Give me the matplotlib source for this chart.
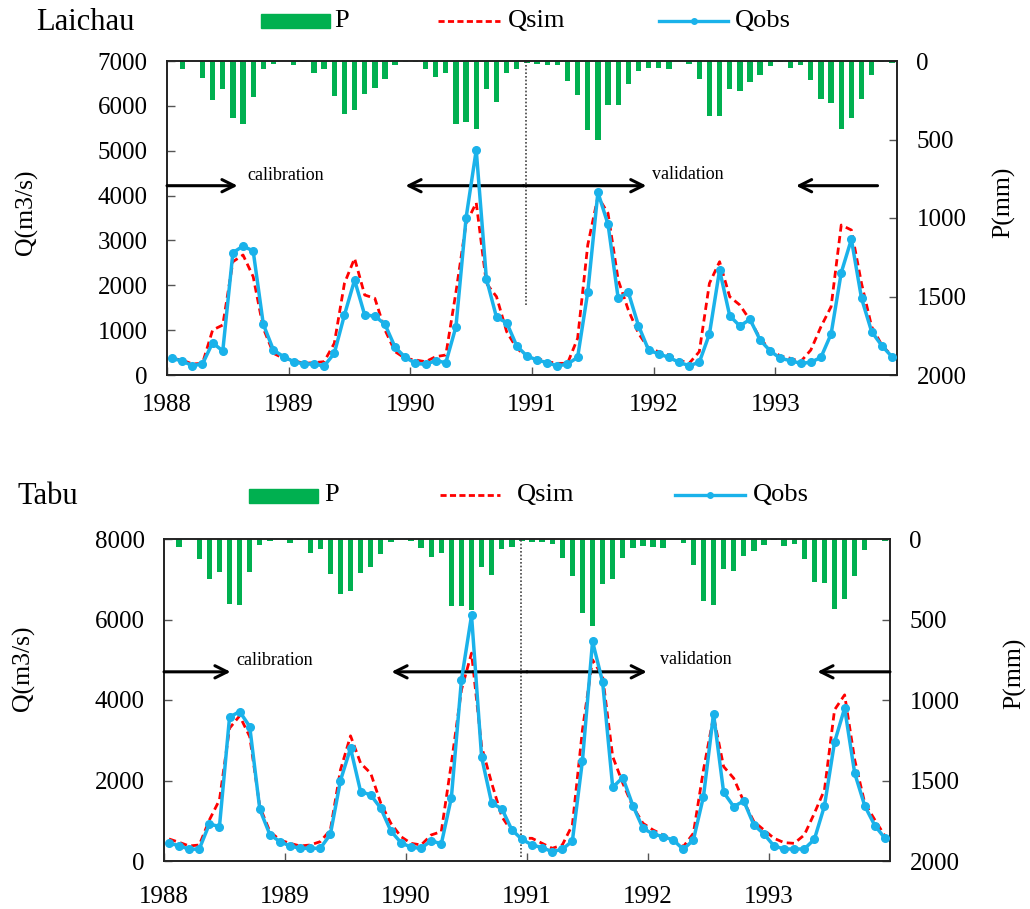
import matplotlib
matplotlib.use("Agg")
import matplotlib.pyplot as plt
from matplotlib.lines import Line2D
from matplotlib.patches import Rectangle
import numpy as np

plt.rcParams['font.family'] = ['Liberation Serif', 'DejaVu Serif']

# ---------------- data ----------------
start_year = 1988
n_months = 72
years = [1988, 1989, 1990, 1991, 1992, 1993]

laichau_P = [5, 51, 3, 110, 248, 178, 364, 400, 231, 51, 21, 3,
             25, 6, 74, 51, 224, 336, 315, 210, 174, 116, 23, 6,
             6, 51, 99, 78, 400, 389, 434, 176, 260, 74, 53, 10,
             19, 25, 25, 127, 216, 442, 506, 279, 279, 146, 63, 47,
             47, 51, 3, 21, 116, 349, 349, 180, 188, 135, 91, 30,
             4, 42, 25, 121, 243, 265, 430, 364, 239, 89, 4, 11]
laichau_Qobs = [370, 312, 208, 245, 720, 535, 2727, 2875, 2764, 1129, 557, 408,
                297, 245, 245, 200, 483, 1337, 2117, 1337, 1315, 1129, 617, 394,
                260, 238, 320, 275, 1077, 3507, 5015, 2147, 1285, 1166, 646, 423,
                334, 275, 200, 245, 394, 1850, 4072, 3358, 1709, 1843, 1100, 557,
                468, 394, 282, 208, 282, 914, 2340, 1322, 1092, 1241, 780, 535,
                371, 320, 260, 282, 394, 914, 2281, 3024, 1709, 966, 654, 408]
laichau_Qsim = [370, 334, 245, 260, 1003, 1114, 2526, 2675, 2192, 1040, 483, 371,
                320, 260, 275, 297, 706, 2043, 2600, 1783, 1709, 1003, 520, 371,
                334, 297, 408, 446, 1850, 3380, 3840, 2043, 1746, 966, 594, 408,
                371, 297, 260, 260, 817, 2900, 3975, 3604, 2118, 1449, 929, 594,
                520, 446, 334, 260, 520, 2043, 2526, 1746, 1560, 1226, 817, 557,
                424, 371, 297, 557, 1077, 1523, 3343, 3232, 2043, 1077, 669, 424]

tabu_P = [3, 48, 3, 123, 251, 206, 401, 407, 204, 39, 10, 3,
          27, 6, 89, 60, 220, 343, 326, 214, 174, 96, 21, 3,
          10, 58, 110, 85, 417, 417, 442, 172, 226, 64, 52, 12,
          21, 21, 33, 120, 228, 457, 540, 282, 247, 116, 54, 42,
          52, 58, 3, 23, 160, 384, 409, 185, 197, 108, 73, 39,
          6, 42, 33, 127, 266, 276, 434, 372, 228, 69, 3, 10]
tabu_Qobs = [439, 381, 290, 298, 920, 854, 3573, 3714, 3341, 1285, 655, 481,
             373, 315, 315, 315, 663, 1998, 2802, 1724, 1641, 1310, 746, 456,
             340, 315, 506, 423, 1575, 4501, 6101, 2578, 1434, 1302, 771, 539,
             398, 332, 232, 290, 497, 2495, 5455, 4443, 1832, 2073, 1376, 812,
             671, 605, 522, 290, 522, 1600, 3656, 1708, 1351, 1492, 895, 671,
             373, 298, 298, 298, 539, 1368, 2951, 3797, 2180, 1368, 879, 564]
tabu_Qsim = [547, 464, 373, 398, 1020, 1517, 3299, 3606, 3092, 1351, 730, 522,
             439, 373, 398, 481, 771, 2263, 3109, 2429, 2180, 1434, 937, 605,
             439, 398, 647, 730, 2429, 4253, 5165, 2843, 1932, 1103, 730, 564,
             564, 439, 315, 398, 895, 3258, 4999, 4584, 2595, 1932, 1351, 937,
             771, 647, 522, 356, 688, 2263, 3590, 2346, 2056, 1476, 978, 771,
             564, 456, 439, 647, 1185, 1766, 3755, 4128, 2512, 1434, 1020, 622]

split_year = 1990.95

# ---------------- style ----------------
GREEN = '#00B050'
RED = '#FF0000'
BLUE = '#1AB2EA'
TICK_FS = 18
W, H = 1030, 909

fig = plt.figure(figsize=(W / 100, H / 100), dpi=100)


def fx(x):
    return x / W


def fy(y):
    return 1 - y / H


t = start_year + (np.arange(n_months) + 0.5) / 12.0


def panel(rect, P, Qobs, Qsim, qmax, qstep, title, leg, ylab_pos, plab_pos,
          arrows, texts, dot_range, xpad):
    ax = fig.add_axes(rect)
    ax2 = ax.twinx()
    ax2.bar(t, P, width=0.044, color=GREEN, align='center', linewidth=0)
    ax2.set_ylim(2000, 0)
    ax2.set_yticks([0, 500, 1000, 1500, 2000])

    ax.plot(t, Qsim, color=RED, lw=2.0, dashes=(2.6, 1.6), zorder=3)
    ax.plot(t, Qobs, color=BLUE, lw=2.5, marker='o', ms=5.5, mfc=BLUE,
            mec=BLUE, zorder=4)
    ax.plot([split_year, split_year], dot_range, color='#444444', lw=1.2,
            ls=(0, (1, 1.2)), zorder=2)

    ax.set_xlim(1988, 1994)
    ax.set_ylim(0, qmax)
    ax.set_yticks(np.arange(0, qmax + 1, qstep))
    ax.set_xticks(years)
    ax.set_xticklabels([str(y) for y in years])
    ax.set_zorder(ax2.get_zorder() + 1)
    ax.patch.set_visible(False)

    for a in (ax, ax2):
        a.tick_params(direction='in', length=6, width=1, color='#555555',
                      labelsize=TICK_FS, pad=14)
        for s in a.spines.values():
            s.set_color('#222222')
            s.set_linewidth(1.2)
    ax.tick_params(axis='x', pad=xpad)

    for (x0, x1, y) in arrows:
        ax.annotate('', xy=(x1, y), xytext=(x0, y),
                    arrowprops=dict(arrowstyle='->', lw=2.2, color='black',
                                    mutation_scale=22, shrinkA=0, shrinkB=0),
                    annotation_clip=False)
    for (x, y, s) in texts:
        ax.text(x, y, s, fontsize=13, ha='left', va='center')

    # title and legend (figure pixel coords)
    tx, ty, rx0, rx1, ry0, ry1, px_, sx0, sx1, stx, ox0, ox1, otx, ly = leg
    fig.text(fx(tx), fy(ty), title, fontsize=22, ha='left', va='center')
    fig.patches.append(Rectangle((fx(rx0), fy(ry1)), fx(rx1 - rx0),
                                 (ry1 - ry0) / H, transform=fig.transFigure,
                                 color=GREEN, figure=fig))
    fig.text(fx(px_), fy(ly), 'P', fontsize=19, ha='left', va='center')
    fig.lines.append(Line2D([fx(sx0), fx(sx1)], [fy(ly), fy(ly)],
                            transform=fig.transFigure, color=RED, lw=2.0,
                            dashes=(2.2, 1.2), figure=fig))
    fig.text(fx(stx), fy(ly), 'Qsim', fontsize=19, ha='left', va='center')
    fig.lines.append(Line2D([fx(ox0), fx(ox1)], [fy(ly), fy(ly)],
                            transform=fig.transFigure, color=BLUE, lw=2.4,
                            figure=fig))
    fig.lines.append(Line2D([fx((ox0 + ox1) / 2)], [fy(ly)],
                            transform=fig.transFigure, color=BLUE, marker='o',
                            ms=4, ls='none', figure=fig))
    fig.text(fx(otx), fy(ly), 'Qobs', fontsize=19, ha='left', va='center')

    fig.text(fx(ylab_pos[0]), fy(ylab_pos[1]), 'Q(m3/s)', fontsize=18.5,
             rotation=90, ha='center', va='center')
    fig.text(fx(plab_pos[0]), fy(plab_pos[1]), 'P(mm)', fontsize=18.5,
             rotation=90, ha='center', va='center')
    return ax


# Laichau
panel([fx(167), fy(375), fx(897 - 167), (375 - 61) / H],
      laichau_P, laichau_Qobs, laichau_Qsim, 7000, 1000, 'Laichau',
      (36, 22, 261, 330, 14, 28, 334, 438, 500, 508, 659, 728, 735, 21),
      (26, 212), (1004, 202),
      [(1988.0, 1988.58, 4220), (1990.93, 1989.96, 4220),
       (1990.93, 1991.94, 4220), (1993.84, 1993.17, 4220)],
      [(1988.66, 4440, 'calibration'), (1991.99, 4460, 'validation')],
      [1555, 7000], 14)

# Tabu
panel([fx(164), fy(861), fx(890 - 164), (861 - 539) / H],
      tabu_P, tabu_Qobs, tabu_Qsim, 8000, 2000, 'Tabu',
      (18, 497, 249, 318, 489, 503, 324, 440, 500, 517, 675, 745, 753, 495),
      (23, 668), (1015, 673),
      [(1988.0, 1988.55, 4700), (1991.0, 1989.88, 4700),
       (1991.0, 1991.99, 4700), (1994.0, 1993.40, 4700)],
      [(1988.60, 4980, 'calibration'), (1992.10, 5000, 'validation')],
      [100, 8000], 18)

fig.savefig('out.png', dpi=100)
